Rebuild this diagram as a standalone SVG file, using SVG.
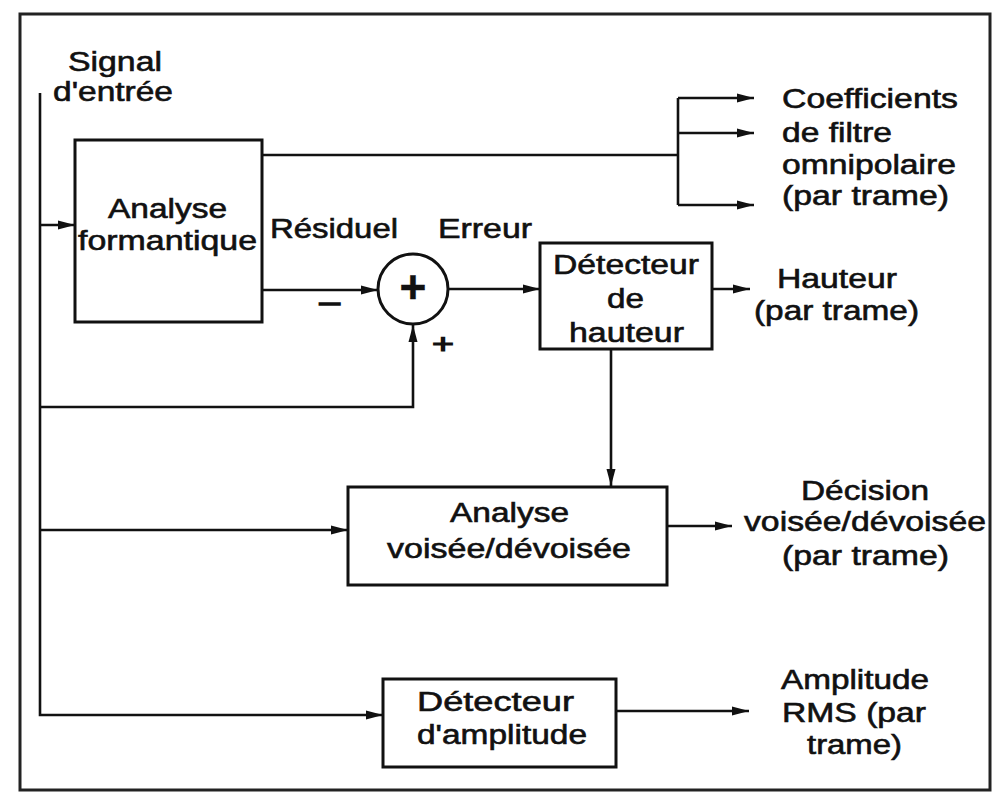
<svg xmlns="http://www.w3.org/2000/svg" width="994" height="794" viewBox="0 0 994 794">
<defs>
<marker id="ah" markerUnits="userSpaceOnUse" markerWidth="18" markerHeight="10" refX="17" refY="5" orient="auto">
<path d="M0,0.5 L17,5 L0,9.5 z" fill="#111"/>
</marker>
<style>
.t{font-family:"Liberation Sans",Arial,Helvetica,sans-serif;font-size:27px;fill:#111;stroke:#111;stroke-width:0.6}
.box{fill:none;stroke:#111;stroke-width:3}
.c{fill:none;stroke:#111;stroke-width:2.6}
.a{marker-end:url(#ah)}
</style>
</defs>
<rect x="0" y="0" width="994" height="794" fill="#fff"/>
<rect x="20" y="14" width="970" height="776" fill="none" stroke="#222" stroke-width="3"/>

<g id="connectors">
<path class="c a" d="M40,93 V715 H383"/>
<path class="c a" d="M40,225 H75"/>
<path class="c a" d="M40,407 H413 V325"/>
<path class="c a" d="M40,530 H348"/>
<path class="c" d="M262,155 H678 M678,98 V205"/>
<path class="c a" d="M678,98 H754"/>
<path class="c a" d="M678,133 H754"/>
<path class="c a" d="M678,205 H754"/>
<path class="c a" d="M262,290 H378"/>
<path class="c a" d="M448,289 H540"/>
<path class="c a" d="M712,289 H750"/>
<path class="c a" d="M611,349 V486"/>
<path class="c a" d="M667,526 H732"/>
<path class="c a" d="M616,711 H749"/>
</g>

<g id="input-label">
<text class="t" x="68" y="71" textLength="94" lengthAdjust="spacingAndGlyphs">Signal</text>
<text class="t" x="53" y="101" textLength="120" lengthAdjust="spacingAndGlyphs">d'entrée</text>
</g>

<g id="analyse-formantique">
<rect class="box" x="75" y="140" width="187" height="182"/>
<text class="t" x="108" y="218" textLength="119" lengthAdjust="spacingAndGlyphs">Analyse</text>
<text class="t" x="78" y="250" textLength="179" lengthAdjust="spacingAndGlyphs">formantique</text>
</g>

<g id="labels-mid">
<text class="t" x="270" y="238" textLength="128" lengthAdjust="spacingAndGlyphs">Résiduel</text>
<text class="t" x="438" y="238" textLength="94" lengthAdjust="spacingAndGlyphs">Erreur</text>
<text class="t" x="318" y="313" textLength="24" lengthAdjust="spacingAndGlyphs" style="stroke-width:1.5">−</text>
<text class="t" x="432" y="353" textLength="22" lengthAdjust="spacingAndGlyphs" style="stroke-width:1.2">+</text>
</g>

<g id="adder">
<circle cx="413" cy="289" r="35" fill="none" stroke="#111" stroke-width="3"/>
<text class="t" x="413" y="303" text-anchor="middle" style="font-size:46px;font-weight:bold;stroke-width:0.5">+</text>
</g>

<g id="coefficients-out">
<text class="t" x="782" y="108" textLength="176" lengthAdjust="spacingAndGlyphs">Coefficients</text>
<text class="t" x="782" y="142" textLength="110" lengthAdjust="spacingAndGlyphs">de filtre</text>
<text class="t" x="782" y="174" textLength="174" lengthAdjust="spacingAndGlyphs">omnipolaire</text>
<text class="t" x="782" y="205" textLength="167" lengthAdjust="spacingAndGlyphs">(par trame)</text>
</g>

<g id="detecteur-hauteur">
<rect class="box" x="540" y="243" width="172" height="106"/>
<text class="t" x="553" y="274" textLength="146" lengthAdjust="spacingAndGlyphs">Détecteur</text>
<text class="t" x="607" y="308" textLength="37" lengthAdjust="spacingAndGlyphs">de</text>
<text class="t" x="569" y="342" textLength="115" lengthAdjust="spacingAndGlyphs">hauteur</text>
</g>

<g id="hauteur-out">
<text class="t" x="777" y="288" textLength="120" lengthAdjust="spacingAndGlyphs">Hauteur</text>
<text class="t" x="754" y="320" textLength="165" lengthAdjust="spacingAndGlyphs">(par trame)</text>
</g>

<g id="analyse-voisee">
<rect class="box" x="348" y="487" width="319" height="98"/>
<text class="t" x="450" y="522" textLength="119" lengthAdjust="spacingAndGlyphs">Analyse</text>
<text class="t" x="387" y="558" textLength="244" lengthAdjust="spacingAndGlyphs">voisée/dévoisée</text>
</g>

<g id="decision-out">
<text class="t" x="801" y="500" textLength="128" lengthAdjust="spacingAndGlyphs">Décision</text>
<text class="t" x="744" y="531" textLength="242" lengthAdjust="spacingAndGlyphs">voisée/dévoisée</text>
<text class="t" x="782" y="565" textLength="167" lengthAdjust="spacingAndGlyphs">(par trame)</text>
</g>

<g id="detecteur-amplitude">
<rect class="box" x="383" y="679" width="233" height="88"/>
<text class="t" x="417" y="711" textLength="157" lengthAdjust="spacingAndGlyphs">Détecteur</text>
<text class="t" x="417" y="744" textLength="170" lengthAdjust="spacingAndGlyphs">d'amplitude</text>
</g>

<g id="amplitude-out">
<text class="t" x="781" y="689" textLength="148" lengthAdjust="spacingAndGlyphs">Amplitude</text>
<text class="t" x="782" y="722" textLength="144" lengthAdjust="spacingAndGlyphs">RMS (par</text>
<text class="t" x="807" y="754" textLength="95" lengthAdjust="spacingAndGlyphs">trame)</text>
</g>
</svg>
